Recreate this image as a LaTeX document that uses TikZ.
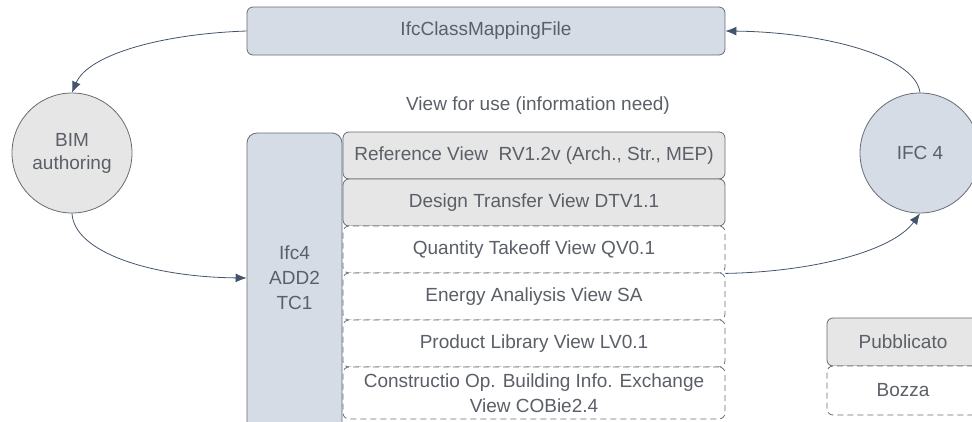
\documentclass[tikz,border=0pt]{standalone}
\usepackage{fontspec}
\setmainfont{Liberation Sans}
\usetikzlibrary{arrows.meta}

\definecolor{boxblue}{HTML}{D6DCE5}
\definecolor{boxgray}{HTML}{E7E6E6}
\definecolor{edge}{HTML}{666C76}
\definecolor{txt}{HTML}{5A5F68}
\definecolor{arrowc}{HTML}{44546A}

\tikzset{
  base/.style={draw=edge, line width=0.8pt, text=txt, inner sep=0pt, align=center},
  bluebox/.style={base, fill=boxblue, rounded corners=6pt},
  viewpub/.style={base, fill=boxgray, rounded corners=6pt, minimum width=382pt, minimum height=47pt},
  viewdraft/.style={base, fill=white, dash pattern=on 6pt off 4pt, rounded corners=6pt, minimum width=382pt, minimum height=47pt},
  disc/.style={base, circle, minimum size=120pt},
  plain/.style={text=txt, inner sep=0pt, align=center},
  arr/.style={draw=arrowc, line width=0.8pt, -{Latex[length=11pt,width=9pt]}},
}

\begin{document}
\begin{tikzpicture}[x=1pt, y=-1pt, font=\fontsize{19}{25}\selectfont]
\useasboundingbox (0,0) rectangle (972,421);
\clip (0,0) rectangle (972,421);

% mapping file on top
\node[bluebox, minimum width=478pt, minimum height=48pt] (map) at (486,31) {IfcClassMappingFile};

% the two actors
\node[disc, fill=boxgray, font=\fontsize{19}{23}\selectfont] (bim) at (72,153) {BIM\\authoring};
\node[disc, fill=boxblue] (ifc) at (920,153) {IFC 4};

% schema column
\node[bluebox, rounded corners=10pt, minimum width=95pt, minimum height=307pt] (schema) at (294.5,286.5) {};
\node[plain, font=\fontsize{19}{25}\selectfont] (schematxt) at (294.5,278) {Ifc4\\ADD2\\TC1};

% model view definitions
\node[plain] (vtitle) at (538,106) {View for use (information need)};
\node[viewpub]   (rv)  at (534,155.5) {Reference View~~RV1.2v (Arch., Str., MEP)};
\node[viewpub]   (dtv) at (534,202.5) {Design Transfer View DTV1.1};
\node[viewdraft] (qv)  at (534,249.5) {Quantity Takeoff View QV0.1};
\node[viewdraft] (sa)  at (534,296.5) {Energy Analiysis View SA};
\node[viewdraft] (lv)  at (534,343.5) {Product Library View LV0.1};
\node[viewdraft, minimum height=52pt, font=\fontsize{19}{25}\selectfont] (cob) at (534,393) {Constructio Op. Building Info. Exchange\\View COBie2.4};

% legend
\node[base, fill=boxgray, rounded corners=6pt, minimum width=152pt, minimum height=48pt] (lgpub) at (903,342) {Pubblicato};
\node[base, fill=white, dash pattern=on 6pt off 4pt, rounded corners=6pt, minimum width=152pt, minimum height=49pt] (lgdraft) at (903,390.5) {Bozza};

% exchange cycle
\draw[arr] (map.west) .. controls (160,34) and (88,55) .. (bim.north);
\draw[arr] (bim.south) .. controls (74,252) and (150,277) .. (schematxt -| schema.west);
\draw[arr] (qv.south east) .. controls (810,272) and (892,252) .. (ifc.south);
\draw[arr] (ifc.north) .. controls (915,55) and (820,32) .. (map.east);
\end{tikzpicture}
\end{document}
